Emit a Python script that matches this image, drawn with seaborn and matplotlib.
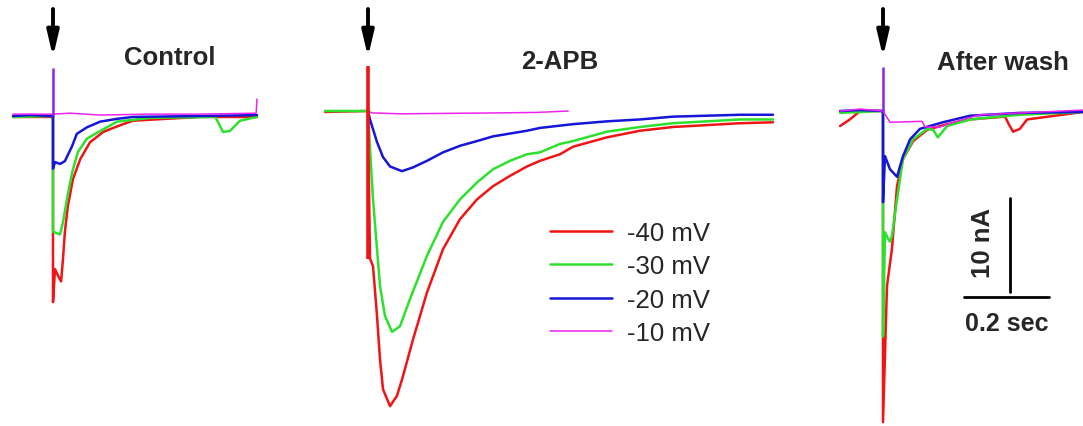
import numpy as np
import pandas as pd
import matplotlib
matplotlib.use("Agg")
import matplotlib.pyplot as plt
import seaborn as sns

sns.set_style("white")
plt.rcParams["font.family"] = ["Liberation Sans", "DejaVu Sans"]

# ---------------- data (time in ms from stimulus, current in nA) ----------------
panels = ["Control", "2-APB", "After wash"]
voltages = ["-40 mV", "-30 mV", "-20 mV", "-10 mV"]

# Control
ctrl_m40_t = [-94, -2, 0, 0, 4.7, 12, 19, 23.5, 28, 35, 47, 64, 87, 118, 151, 188, 346, 480]
ctrl_m40_i = [-0.1, -0.1, 0, -19.8, -16.3, -17.0, -17.6, -15.2, -12.3, -9.6, -6.7, -4.6, -2.8, -1.7, -1.1, -0.5, -0.1, -0.1]
ctrl_m30_t = [-94, -2, 0, 0, 16.5, 23.5, 33, 45, 59, 80, 111, 151, 228, 369, 381, 400, 416, 440, 480]
ctrl_m30_i = [-0.1, 0, 0, -12.3, -12.6, -11.3, -8.8, -6.0, -3.8, -2.4, -1.6, -0.6, -0.2, -0.1, 0, -1.7, -1.6, -0.5, -0.1]
ctrl_m20_t = [-94, -54, -2, 0, 0, 4.7, 16.5, 28, 45, 56, 80, 111, 151, 188, 346, 480]
ctrl_m20_i = [0, 0.1, 0, 0, -5.6, -4.9, -5.1, -4.8, -3.2, -1.9, -1.2, -0.6, -0.3, -0.1, 0, 0.1]
ctrl_m10_t = [-94, 0, 40, 111, 228, 346, 478, 480]
ctrl_m10_i = [0.2, 0.2, 0.3, 0.1, 0.2, 0.2, 0.3, 1.8]

# 2-APB
apb_m40_t = [-101, -2.4, 0, 4.7, 11.8, 21.2, 28.2, 35.3, 51.8, 68.2, 82.4, 105.9, 138.8, 176.5,
             216.5, 256.5, 294.1, 334.1, 374.1, 404.7, 451.8, 482.4, 562.4, 640, 717.6, 797.6, 875.3, 952.9]
apb_m40_i = [-0.1, 0, 0, -15.7, -16.5, -21.8, -26.4, -29.6, -31.4, -30.3, -28.2, -24.3, -19.3, -14.7,
             -11.5, -9.4, -8.0, -6.9, -5.9, -5.3, -4.6, -3.8, -2.8, -2.1, -1.7, -1.5, -1.3, -1.2]
apb_m30_t = [-101, -2.4, 0, 4.7, 11.8, 21.2, 28.2, 40, 56.5, 75.3, 98.8, 138.8, 176.5, 216.5, 256.5,
             294.1, 334.1, 374.1, 404.7, 451.8, 482.4, 562.4, 640, 717.6, 797.6, 875.3, 952.9]
apb_m30_i = [0, 0, 0, -4.0, -9.4, -14.7, -18.6, -21.8, -23.5, -22.9, -20.0, -15.4, -11.8, -9.4, -7.6,
             -6.2, -5.3, -4.6, -4.4, -3.5, -3.2, -2.2, -1.7, -1.3, -1.1, -0.9, -0.9]
apb_m20_t = [0, 4.7, 21.2, 35.3, 51.8, 80, 105.9, 138.8, 176.5, 216.5, 256.5, 294.1, 374.1, 404.7,
             482.4, 562.4, 640, 717.6, 797.6, 875.3, 952.9]
apb_m20_i = [0, -0.9, -3.3, -4.9, -5.9, -6.4, -6.0, -5.3, -4.4, -3.7, -3.2, -2.7, -2.1, -1.8,
             -1.4, -1.1, -0.9, -0.6, -0.5, -0.4, -0.4]
apb_m10_t = [0, 9.4, 75, 193, 311, 400, 471]
apb_m10_i = [0, -0.2, -0.3, -0.25, -0.2, -0.15, 0]

# After wash
wash_m40_t = [-101, -78, -54, -2, 0, 0, 9.4, 21, 33, 47, 71, 104, 151, 205, 287, 296, 306, 322, 339, 471]
wash_m40_i = [-1.6, -0.9, 0, 0, 0, -33.1, -18.6, -14.7, -8.0, -5.1, -3.2, -2.0, -1.4, -0.9, -0.6, -1.4, -2.2, -1.9, -0.9, -0.1]
wash_m30_t = [-101, -2, 0, 0, 4.7, 12, 16.5, 21, 33, 47, 71, 104, 118, 129, 151, 205, 322, 471]
wash_m30_i = [-0.2, 0, 0, -24.0, -12.9, -13.6, -13.9, -13.3, -9.4, -5.1, -3.0, -1.9, -2.0, -2.8, -1.6, -0.9, -0.4, -0.1]
wash_m20_t = [-101, -54, -2, 0, 0, 4.7, 16.5, 33, 47, 64, 87, 141, 205, 322, 471]
wash_m20_i = [0, 0.1, 0, 0, -9.7, -4.8, -6.2, -7.0, -4.8, -3.0, -1.9, -1.2, -0.5, -0.2, -0.1]
wash_m10_t = [-101, -54, 0, 16.5, 92, 99, 134, 165, 228, 471]
wash_m10_i = [0, 0.2, 0, -1.2, -1.1, -1.7, -1.7, -1.2, -0.4, 0.1]

# stimulus artifacts (top and bottom, nA)
artifact_top = [5.1, 4.8, 4.7]
artifact_bottom = [0.0, -15.7, 0.0]

traces = {
    ("Control", "-40 mV"): (ctrl_m40_t, ctrl_m40_i),
    ("Control", "-30 mV"): (ctrl_m30_t, ctrl_m30_i),
    ("Control", "-20 mV"): (ctrl_m20_t, ctrl_m20_i),
    ("Control", "-10 mV"): (ctrl_m10_t, ctrl_m10_i),
    ("2-APB", "-40 mV"): (apb_m40_t, apb_m40_i),
    ("2-APB", "-30 mV"): (apb_m30_t, apb_m30_i),
    ("2-APB", "-20 mV"): (apb_m20_t, apb_m20_i),
    ("2-APB", "-10 mV"): (apb_m10_t, apb_m10_i),
    ("After wash", "-40 mV"): (wash_m40_t, wash_m40_i),
    ("After wash", "-30 mV"): (wash_m30_t, wash_m30_i),
    ("After wash", "-20 mV"): (wash_m20_t, wash_m20_i),
    ("After wash", "-10 mV"): (wash_m10_t, wash_m10_i),
}

# ---------------- layout (positions) ----------------
W, H = 1083, 427
PX_PER_S = 425.0
PX_PER_NA = 9.4
panel_stim_px = {"Control": 53, "2-APB": 368, "After wash": 883}
panel_base_px = {"Control": 117, "2-APB": 112, "After wash": 112}

colors = {"-40 mV": "#f01414", "-30 mV": "#2ee02e", "-20 mV": "#1616d8", "-10 mV": "#ee22ee"}
widths = {"-40 mV": 1.8, "-30 mV": 1.8, "-20 mV": 1.8, "-10 mV": 1.1}
artifact_colors = ["#8a22e8", "#f01414", "#8a22e8"]

rows = []
for (panel, v), (ts, cs) in traces.items():
    for k, (t, c) in enumerate(zip(ts, cs)):
        rows.append(dict(panel=panel, voltage=v, order=k,
                         x=t / 1000.0 + panel_stim_px[panel] / PX_PER_S,
                         y=c - panel_base_px[panel] / PX_PER_NA))
df = pd.DataFrame(rows)

fig = plt.figure(figsize=(W / 100, H / 100), dpi=100)
ax = fig.add_axes([0, 0, 1, 1])
ax.set_xlim(0, W / PX_PER_S)
ax.set_ylim(-H / PX_PER_NA, 0)
ax.axis("off")

for v in voltages:
    sub = df[df.voltage == v]
    sns.lineplot(data=sub, x="x", y="y", units="panel", estimator=None, sort=False,
                 color=colors[v], lw=widths[v], ax=ax, legend=False)

# artifacts and arrows
for k, p in enumerate(panels):
    x0 = panel_stim_px[p] / PX_PER_S
    b = -panel_base_px[p] / PX_PER_NA
    ax.plot([x0, x0], [b + artifact_bottom[k], b + artifact_top[k]],
            color=artifact_colors[k], lw=2.6 if k == 1 else 1.8, solid_capstyle="butt")
    ax.annotate("", xy=(x0, -58 / PX_PER_NA), xytext=(x0, -10 / PX_PER_NA),
                arrowprops=dict(arrowstyle="-|>,head_length=1.5,head_width=0.35",
                                lw=2.8, color="black", shrinkA=0, shrinkB=0,
                                mutation_scale=10))

# titles
titles_px = {"Control": (170, 58), "2-APB": (560, 62), "After wash": (1003, 63)}
for p in panels:
    x, y = titles_px[p]
    fig.text(x / W, 1 - y / H, p, ha="center", va="center", fontsize=18.5, fontweight="bold")

# legend
handles = [plt.Line2D([], [], color=colors[v], lw=widths[v]) for v in voltages]
ax.legend(handles, voltages, loc="upper left", bbox_to_anchor=(550 / W, 1 - 222 / H),
          frameon=False, fontsize=18.5, handlelength=2.4, handletextpad=0.6,
          labelspacing=0.36, borderaxespad=0, borderpad=0)

# scale bar (10 nA, 0.2 s)
sb_x = 1010 / PX_PER_S
sb_y = -293 / PX_PER_NA
ax.plot([sb_x, sb_x], [sb_y, sb_y + 10], color="black", lw=2.0)
hb_x = 964 / PX_PER_S
hb_y = -298 / PX_PER_NA
ax.plot([hb_x, hb_x + 0.2], [hb_y, hb_y], color="black", lw=2.0)
fig.text(983 / W, 1 - 243 / H, "10 nA", rotation=90, ha="center", va="center",
         fontsize=18.5, fontweight="bold")
fig.text(1007 / W, 1 - 324 / H, "0.2 sec", ha="center", va="center",
         fontsize=18, fontweight="bold")

fig.savefig("out.png", dpi=100)
